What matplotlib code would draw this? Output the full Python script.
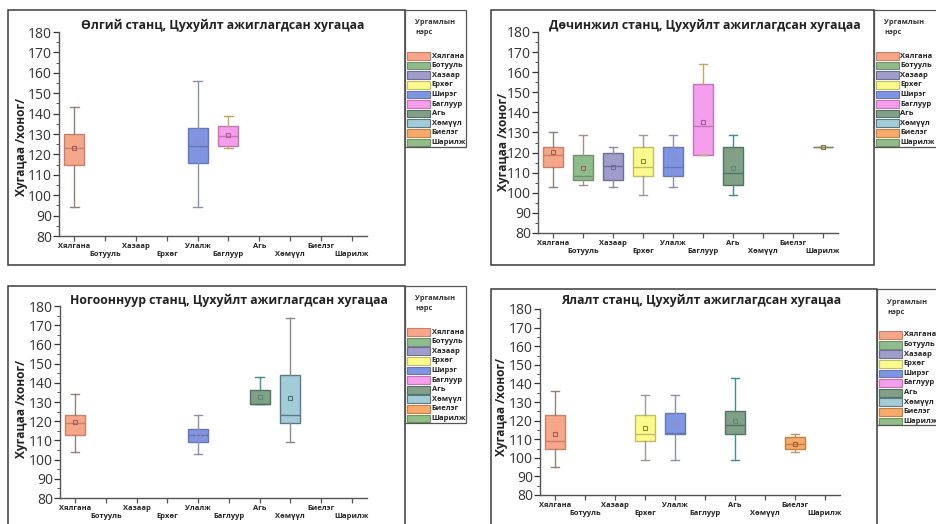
import matplotlib
matplotlib.use("Agg")
import matplotlib.pyplot as plt
from matplotlib.patches import Rectangle
from matplotlib.ticker import MultipleLocator

W, H = 936, 524
plt.rcParams['font.family'] = ['Open Sans', 'DejaVu Sans']

# Plant species on the x axis and in the legend
categories = ['Хялгана', 'Ботууль', 'Хазаар', 'Ерхөг', 'Улалж',
              'Баглуур', 'Агь', 'Хөмүүл', 'Биелэг', 'Шарилж']
legend_names = ['Хялгана', 'Ботууль', 'Хазаар', 'Ерхөг', 'Ширэг',
                'Баглуур', 'Агь', 'Хөмүүл', 'Биелэг', 'Шарилж']
face_colors = ['#f6a689', '#8fbc8c', '#9f9dca', '#fbfb8c', '#7f95e2',
               '#f49eec', '#82a086', '#a2ccd7', '#f8aa6a', '#90be85']
edge_colors = ['#c8806a', '#6f8f6f', '#6e6c98', '#c2bc64', '#6677b4',
               '#c274b4', '#4f7466', '#5d7884', '#c47f45', '#6f9565']
whisker_colors = ['#8f807c', '#a88f8f', '#8a8aa4', '#9c9c94', '#8c90a8',
                  '#c2a863', '#3f8c8a', '#8a8a8a', '#c39462', '#d0a46c']
mean_colors = ['#a25f55', '#a06060', '#6c6ca0', '#8a8a40', '#8a90c8',
               '#b0608a', '#5e8a76', '#4a6f7c', '#a0603a', '#9a6a40']

# Өлгий станц
ulgii_cats = ['Хялгана', 'Улалж', 'Баглуур']
ulgii_min = [94, 94, 123]
ulgii_q1 = [115, 116, 124]
ulgii_med = [123, 124, 129]
ulgii_q3 = [130, 133, 134]
ulgii_max = [143, 156, 139]
ulgii_mean = [123, 126.5, 129.5]

# Дөчинжил станц
duchinjil_cats = ['Хялгана', 'Ботууль', 'Хазаар', 'Ерхөг', 'Улалж',
                  'Баглуур', 'Агь', 'Шарилж']
duchinjil_min = [103, 104, 103, 99, 103, 119, 99, 123]
duchinjil_q1 = [113, 106.5, 106.5, 108.5, 108.5, 119, 104, 123]
duchinjil_med = [119, 108.5, 113.5, 113, 113, 133, 110, 123]
duchinjil_q3 = [123, 119, 120, 123, 123, 154, 123, 123]
duchinjil_max = [130, 129, 123, 129, 129, 164, 129, 123]
duchinjil_mean = [120.5, 112.5, 113, 116, 117.5, 135, 112.5, 123]

# Ногооннуур станц
nogoonnuur_cats = ['Хялгана', 'Улалж', 'Агь', 'Хөмүүл']
nogoonnuur_min = [104, 103, 129, 109]
nogoonnuur_q1 = [113, 109, 129, 119]
nogoonnuur_med = [119, 113, 129, 123]
nogoonnuur_q3 = [123, 116, 136.5, 144]
nogoonnuur_max = [134, 123, 143, 174]
nogoonnuur_mean = [119.5, 113, 132.5, 132]

# Ялалт станц
yalalt_cats = ['Хялгана', 'Ерхөг', 'Улалж', 'Агь', 'Биелэг']
yalalt_min = [95, 99, 99, 99, 103]
yalalt_q1 = [105, 109, 113, 113, 104.5]
yalalt_med = [109, 113, 113.5, 117.5, 107.5]
yalalt_q3 = [123, 123, 124, 125, 111]
yalalt_max = [136, 134, 134, 143, 113]
yalalt_mean = [113, 116, 118.5, 120, 107.5]

y_ticks = [80, 90, 100, 110, 120, 130, 140, 150, 160, 170, 180]

fig = plt.figure(figsize=(W / 100, H / 100), dpi=100)
fig.patch.set_facecolor('white')


def px_rect(x0, y0, x1, y1):
    return [x0 / W, 1 - y1 / H, (x1 - x0) / W, (y1 - y0) / H]


def frame(x0, y0, x1, y1, lw=1.1, color='#3a3a3a'):
    fig.add_artist(Rectangle((x0 / W, 1 - y1 / H), (x1 - x0) / W, (y1 - y0) / H,
                             transform=fig.transFigure, fill=False,
                             edgecolor=color, linewidth=lw))


def draw_legend(x0, y0, x1, y1):
    lax = fig.add_axes(px_rect(x0, y0, x1, y1))
    lax.set_xlim(0, x1 - x0)
    lax.set_ylim(y1 - y0, 0)
    lax.axis('off')
    lax.text(10, 13, 'Ургамлын', fontsize=5.3, fontweight='bold',
             color='#333333', va='center', ha='left')
    lax.text(10, 23, 'нэрс', fontsize=5.3, fontweight='bold',
             color='#333333', va='center', ha='left')
    for i, name in enumerate(legend_names):
        yc = 46 + i * 9.6
        lax.add_patch(Rectangle((2, yc - 3.9), 23, 7.8,
                                facecolor=face_colors[i],
                                edgecolor=edge_colors[i], linewidth=0.8))
        lax.text(26.5, yc, name, fontsize=5.4, fontweight='bold',
                 color='#222222', va='center', ha='left')


def draw_panel(title, cats, lo, q1, med, q3, hi, mean,
               axes_px, frame_px, legend_px, title_xy, ylabel_xy):
    frame(*frame_px)
    frame(*legend_px, lw=0.9, color='#555555')
    ax = fig.add_axes(px_rect(*axes_px))
    for c, a, b, m, d, e, mu in zip(cats, lo, q1, med, q3, hi, mean):
        i = categories.index(c)
        stats = [dict(whislo=a, q1=b, med=m, q3=d, whishi=e, mean=mu)]
        ax.bxp(stats, positions=[i], widths=0.65, capwidths=0.27,
               patch_artist=True, showmeans=True, showfliers=False,
               boxprops=dict(facecolor=face_colors[i],
                             edgecolor=edge_colors[i], linewidth=1.0),
               whiskerprops=dict(color=whisker_colors[i], linewidth=1.0),
               capprops=dict(color=whisker_colors[i], linewidth=1.0),
               medianprops=dict(color=edge_colors[i], linewidth=1.0),
               meanprops=dict(marker='s', markersize=3.2,
                              markerfacecolor='none',
                              markeredgecolor=mean_colors[i],
                              markeredgewidth=0.8))
    ax.set_xlim(-0.5, 9.5)
    ax.set_ylim(80, 180)
    ax.set_yticks(y_ticks)
    ax.yaxis.set_minor_locator(MultipleLocator(5))
    ax.set_xticks(range(len(categories)))
    ax.set_xticklabels([n if k % 2 == 0 else '\n' + n
                        for k, n in enumerate(categories)],
                       fontsize=5.4, fontweight='bold', color='#222222',
                       linespacing=1.15)
    ax.tick_params(axis='y', labelsize=10, colors='#333333', length=4,
                   width=0.9, pad=1)
    ax.tick_params(axis='y', which='minor', length=2, width=0.7,
                   colors='#555555')
    ax.tick_params(axis='x', length=3.5, width=0.9, pad=1.5,
                   colors='#555555', labelcolor='#222222')
    for s in ('top', 'right'):
        ax.spines[s].set_visible(False)
    for s in ('left', 'bottom'):
        ax.spines[s].set_color('#555555')
        ax.spines[s].set_linewidth(1.0)
    ax.patch.set_alpha(0)
    fig.text(title_xy[0] / W, 1 - title_xy[1] / H, title, fontsize=8.8,
             fontweight='bold', color='#222222', ha='center', va='center')
    fig.text(ylabel_xy[0] / W, 1 - ylabel_xy[1] / H, 'Хугацаа /хоног/',
             fontsize=8.6, fontweight='bold', color='#222222',
             ha='center', va='center', rotation=90)
    draw_legend(*legend_px)


draw_panel('Өлгий станц, Цухуйлт ажиглагдсан хугацаа',
           ulgii_cats, ulgii_min, ulgii_q1, ulgii_med, ulgii_q3,
           ulgii_max, ulgii_mean,
           axes_px=(59, 32, 367, 236), frame_px=(8, 10, 405, 265),
           legend_px=(405, 10, 466, 147), title_xy=(223, 25),
           ylabel_xy=(22, 147))

draw_panel('Дөчинжил станц, Цухуйлт ажиглагдсан хугацаа',
           duchinjil_cats, duchinjil_min, duchinjil_q1, duchinjil_med,
           duchinjil_q3, duchinjil_max, duchinjil_mean,
           axes_px=(538, 32, 838, 233), frame_px=(491, 10, 874, 265),
           legend_px=(874, 10, 940, 147), title_xy=(705, 25),
           ylabel_xy=(503, 142))

draw_panel('Ногооннуур станц, Цухуйлт ажиглагдсан хугацаа',
           nogoonnuur_cats, nogoonnuur_min, nogoonnuur_q1, nogoonnuur_med,
           nogoonnuur_q3, nogoonnuur_max, nogoonnuur_mean,
           axes_px=(60, 306, 367, 498), frame_px=(8, 286, 405, 532),
           legend_px=(405, 286, 466, 423), title_xy=(229, 300),
           ylabel_xy=(22, 409))

draw_panel('Ялалт станц, Цухуйлт ажиглагдсан хугацаа',
           yalalt_cats, yalalt_min, yalalt_q1, yalalt_med, yalalt_q3,
           yalalt_max, yalalt_mean,
           axes_px=(540, 309, 840, 495), frame_px=(491, 289, 877, 532),
           legend_px=(877, 289, 940, 425), title_xy=(701, 300),
           ylabel_xy=(501, 407))

fig.savefig('out.png', dpi=100, facecolor='white')
